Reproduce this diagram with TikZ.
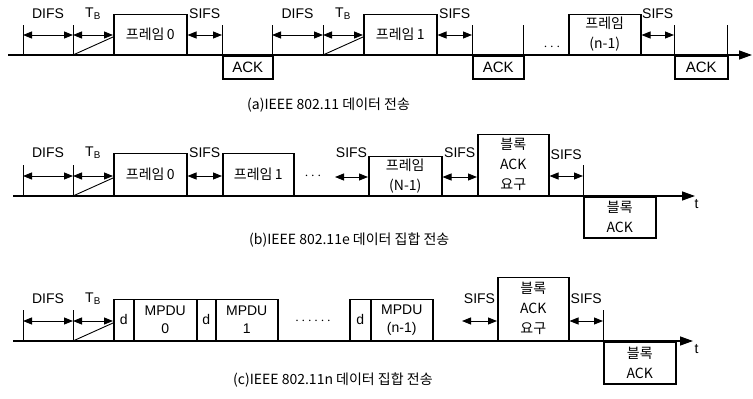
\documentclass[tikz,border=0pt]{standalone}
\usepackage{fontspec}
\setmainfont{Liberation Sans}
\newfontfamily\kr{Noto Sans CJK KR}
\usetikzlibrary{arrows.meta}
\tikzset{
  font=\fontsize{14}{20}\selectfont,
  pkt/.style={draw,line width=1.5pt,inner sep=0pt,align=center,anchor=south west},
  ackbox/.style={draw,line width=1.5pt,inner sep=0pt,align=center,anchor=north west,
                 font=\fontsize{15}{20}\selectfont},
  krtext/.style={font=\kr\fontsize{14}{20}\selectfont},
  tick/.style={line width=0.9pt},
  span/.style={{Triangle[length=9pt,width=7pt]}-{Triangle[length=9pt,width=7pt]},line width=0.9pt},
  axis/.style={-{Triangle[length=13pt,width=9pt]},line width=1.3pt},
  lbl/.style={inner sep=0pt},
  captext/.style={inner sep=0pt,anchor=west,font=\kr\fontsize{14}{16}\selectfont},
}

\begin{document}
\begin{tikzpicture}[x=1pt,y=-1pt]
  \useasboundingbox (0,0) rectangle (753,399);

  % ===== (a) IEEE 802.11: one frame, one ACK (base y 55) =====
  \coordinate (aStart) at (8,55);
  \coordinate (aEnd) at (752,55);
  \foreach \n/\x in {D0/23,T0/73,S0/222,D1/272,T1/323,S1/472,E1/523,S2/674,E2/727}{
    \coordinate (a\n) at (\x,35);
    \draw[tick] (\x,25) -- (\x,55);
  }
  \node[pkt,krtext,minimum width=73pt,minimum height=40pt] (fa0) at (113,55) {프레임\,0};
  \node[pkt,krtext,minimum width=73pt,minimum height=40pt] (fa1) at (363,55) {프레임\,1};
  \node[pkt,krtext,minimum width=72pt,minimum height=40pt] (fan) at (568,55) {프레임\\(n-1)};
  \node[ackbox,minimum width=50pt,minimum height=23pt] (acka0) at (222,55) {ACK};
  \node[ackbox,minimum width=51pt,minimum height=23pt] (acka1) at (472,55) {ACK};
  \node[ackbox,minimum width=53pt,minimum height=23pt] (ackan) at (674,55) {ACK};
  \draw[axis] (aStart) -- (aEnd);
  % backoff slopes
  \draw[tick] (aT0|-aStart) -- (fa0.west|-0,37);
  \draw[tick] (aT1|-aStart) -- (fa1.west|-0,37);
  % gaps
  \draw[span] (aD0) -- (aT0) node[lbl,midway,yshift=21pt] (difsa0) {DIFS};
  \draw[span] (aT0) -- (fa0.west|-aT0) node[lbl,midway,yshift=21pt] (tba0) {T\textsubscript{B}};
  \draw[span] (fa0.east|-aS0) -- (aS0) node[lbl,midway,yshift=21pt] (sifsa0) {SIFS};
  \draw[span] (aD1) -- (aT1) node[lbl,midway,yshift=21pt] (difsa1) {DIFS};
  \draw[span] (aT1) -- (fa1.west|-aT1) node[lbl,midway,yshift=21pt] (tba1) {T\textsubscript{B}};
  \draw[span] (fa1.east|-aS1) -- (aS1) node[lbl,midway,yshift=21pt] (sifsa1) {SIFS};
  \draw[span] (fan.east|-aS2) -- (aS2) node[lbl,midway,yshift=21pt] (sifsan) {SIFS};
  \node[lbl] (dotsa) at (552,47) {$\cdots$};
  \node[captext] (capa) at (247,105) {(a)IEEE 802.11 데이터 전송};

  % ===== (b) IEEE 802.11e: aggregate + block ACK (base y 196) =====
  \coordinate (bStart) at (13,196);
  \coordinate (bEnd) at (695,196);
  \foreach \n/\x in {D0/23,T0/73,S3/583}{
    \coordinate (b\n) at (\x,176);
    \draw[tick] (\x,165) -- (\x,196);
  }
  \coordinate (bS1) at (335,177);
  \node[pkt,krtext,minimum width=73pt,minimum height=42pt] (fb0) at (113,196) {프레임\,0};
  \node[pkt,krtext,minimum width=71pt,minimum height=42pt] (fb1) at (222,196) {프레임\,1};
  \node[pkt,krtext,minimum width=73pt,minimum height=39pt] (fbn) at (368,196) {프레임\\(N-1)};
  \node[pkt,krtext,minimum width=71pt,minimum height=61pt] (barb) at (477,196) {블록\\ACK\\요구};
  \node[ackbox,krtext,minimum width=72pt,minimum height=41pt] (bab) at (583,196) {블록\\ACK};
  \draw[axis] (bStart) -- (bEnd) node[lbl,anchor=north west,xshift=-1pt,yshift=-3pt] (tb) {t};
  \draw[tick] (bT0|-bStart) -- (fb0.west|-0,178);
  \draw[span] (bD0) -- (bT0) node[lbl,midway,yshift=23pt] (difsb) {DIFS};
  \draw[span] (bT0) -- (fb0.west|-bT0) node[lbl,midway,yshift=23pt] (tbb) {T\textsubscript{B}};
  \draw[span] (fb0.east|-bT0) -- (fb1.west|-bT0) node[lbl,midway,yshift=23pt] (sifsb0) {SIFS};
  \draw[span] (bS1) -- (fbn.west|-bS1) node[lbl,midway,yshift=24pt] (sifsb1) {SIFS};
  \draw[span] (fbn.east|-bS1) -- (barb.west|-bS1) node[lbl,midway,yshift=24pt] (sifsb2) {SIFS};
  \draw[span] (barb.east|-bS3) -- (bS3) node[lbl,midway,yshift=21pt] (sifsb3) {SIFS};
  \node[lbl] (dotsb) at (313,176) {$\cdots$};
  \node[captext] (capb) at (249,240) {(b)IEEE 802.11e 데이터 집합 전송};

  % ===== (c) IEEE 802.11n: A-MPDU + block ACK (base y 341) =====
  \coordinate (cStart) at (13,341);
  \coordinate (cEnd) at (693,341);
  \foreach \n/\x in {D0/23,T0/73,S3/603}{
    \coordinate (c\n) at (\x,321);
    \draw[tick] (\x,310) -- (\x,341);
  }
  \coordinate (cS2) at (462,321);
  \foreach \n/\x/\w in {d0/113/20,d1/196/19,dn/349/21}{
    \node[pkt,minimum width=\w pt,minimum height=41pt] (c\n) at (\x,341) {d};
  }
  \node[pkt,minimum width=63pt,minimum height=41pt] (mc0) at (133,341) {MPDU\\[-2pt]0};
  \node[pkt,minimum width=62pt,minimum height=41pt] (mc1) at (215,341) {MPDU\\[-2pt]1};
  \node[pkt,minimum width=62pt,minimum height=41pt] (mcn) at (370,341) {MPDU\\[-2pt](n-1)};
  \node[pkt,krtext,minimum width=71pt,minimum height=63pt] (barc) at (497,341) {블록\\ACK\\요구};
  \node[ackbox,krtext,minimum width=72pt,minimum height=42pt] (bac) at (603,341) {블록\\ACK};
  \draw[axis] (cStart) -- (cEnd) node[lbl,anchor=north west,xshift=1pt,yshift=-3pt] (tc) {t};
  \draw[tick] (cT0|-cStart) -- (cd0.west|-0,323);
  \draw[span] (cD0) -- (cT0) node[lbl,midway,yshift=22pt] (difsc) {DIFS};
  \draw[span] (cT0) -- (cd0.west|-cT0) node[lbl,midway,yshift=22pt] (tbc) {T\textsubscript{B}};
  \draw[span] (cS2) -- (barc.west|-cS2) node[lbl,midway,yshift=22pt] (sifsc0) {SIFS};
  \draw[span] (barc.east|-cS3) -- (cS3) node[lbl,midway,yshift=22pt] (sifsc1) {SIFS};
  \node[lbl] (dotsc) at (313,321) {$\cdots\cdots$};
  \node[captext] (capc) at (233,380) {(c)IEEE 802.11n 데이터 집합 전송};
\end{tikzpicture}
\end{document}
